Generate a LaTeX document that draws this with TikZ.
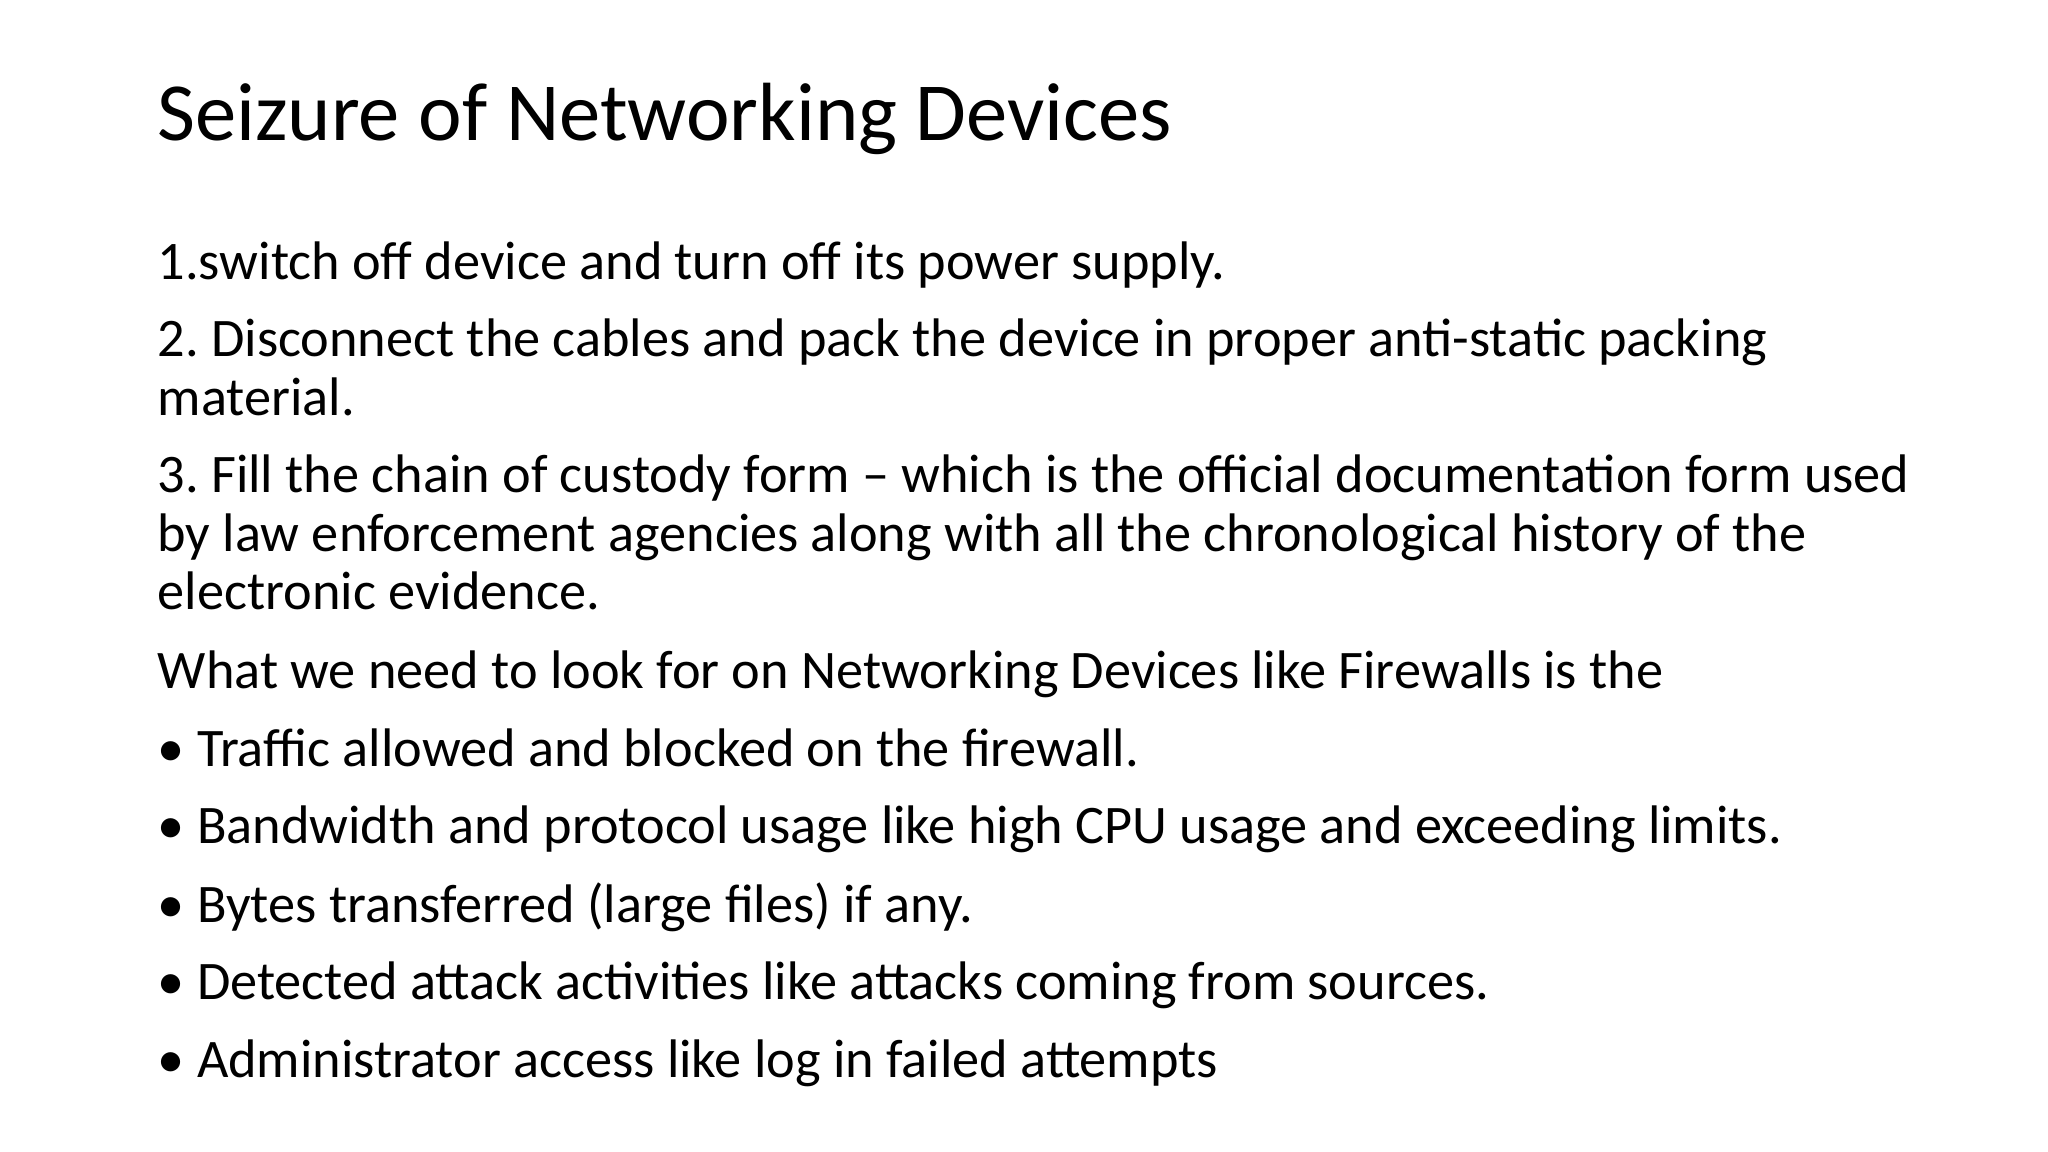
\documentclass[tikz,border=0pt]{standalone}
\usepackage{fontspec}
\setmainfont{Carlito}
\frenchspacing
\begin{document}
\begin{tikzpicture}[x=1cm,y=1cm,
  ln/.style={anchor=base west,inner sep=0pt,font=\fontsize{15.45pt}{18pt}\selectfont},
  ttl/.style={anchor=base west,inner sep=0pt,font=\fontsize{23.5pt}{26pt}\selectfont}]
\useasboundingbox[fill=white] (0,0) rectangle (20.48,-11.52);
\node[ttl] (t) at (1.57,-1.41) {Seizure of Networking Devices};
\node[ln] (l1) at (1.57,-2.795) {1.switch off device and turn off its power supply.};
\node[ln] (l2) at (1.57,-3.565) {2. Disconnect the cables and pack the device in proper anti-static packing};
\node[ln] (l3) at (1.57,-4.153) {material.};
\node[ln] (l4) at (1.57,-4.924) {3. Fill the chain of custody form – which is the official documentation form used};
\node[ln] (l5) at (1.57,-5.511) {by law enforcement agencies along with all the chronological history of the};
\node[ln] (l6) at (1.57,-6.099) {electronic evidence.};
\node[ln] (l7) at (1.57,-6.883) {What we need to look for on Networking Devices like Firewalls is the};
\node[ln] (l8) at (1.57,-7.666) {• Traffic allowed and blocked on the firewall.};
\node[ln] (l9) at (1.57,-8.437) {• Bandwidth and protocol usage like high CPU usage and exceeding limits.};
\node[ln] (l10) at (1.57,-9.220) {• Bytes transferred (large files) if any.};
\node[ln] (l11) at (1.57,-9.991) {• Detected attack activities like attacks coming from sources.};
\node[ln] (l12) at (1.57,-10.774) {• Administrator access like log in failed attempts};
\end{tikzpicture}
\end{document}
